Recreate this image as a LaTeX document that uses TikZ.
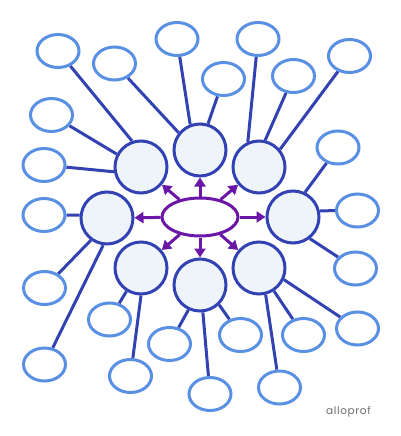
\documentclass[tikz,border=0pt]{standalone}
\usepackage{fontspec}
\newfontfamily\logofont[LetterSpace=6]{Poppins}
\usetikzlibrary{shapes.geometric,arrows.meta,backgrounds}
\definecolor{outerblue}{HTML}{5A90E4}
\definecolor{linkblue}{HTML}{3242B2}
\definecolor{midfill}{HTML}{EFF4FA}
\definecolor{mainpurple}{HTML}{6A17A8}
\definecolor{logogray}{HTML}{6E6E6E}
\tikzset{
  leaf/.style={ellipse,draw=outerblue,fill=white,line width=3pt,minimum width=42pt,minimum height=33pt,inner sep=0pt},
  hub/.style={circle,draw=linkblue,fill=midfill,line width=3pt,minimum size=52pt,inner sep=0pt},
  core/.style={ellipse,draw=mainpurple,fill=white,line width=3pt,minimum width=76pt,minimum height=38pt,inner sep=0pt},
  link/.style={draw=linkblue,line width=3pt},
  push/.style={draw=mainpurple,line width=3pt,-{Triangle[width=11pt,length=9pt]}}
}
\begin{document}
\begin{tikzpicture}[x=1pt,y=-1pt]
\useasboundingbox (0,0) rectangle (400,436);
% centre
\node[core] (ce) at (200,217) {};
% hubs
\node[hub] (cTL) at (141,167) {};
\node[hub] (cT)  at (200,150) {};
\node[hub] (cTR) at (259,167) {};
\node[hub] (cR)  at (293,217) {};
\node[hub] (cBR) at (259,268) {};
\node[hub] (cB)  at (200,285) {};
\node[hub] (cBL) at (141,268) {};
\node[hub] (cL)  at (107,218) {};
% leaves
\node[leaf] (e1)  at (58,51) {};
\node[leaf] (e2)  at (114.5,63.5) {};
\node[leaf] (e3)  at (177,39) {};
\node[leaf] (e4)  at (51.5,115) {};
\node[leaf] (e5)  at (44,165) {};
\node[leaf] (e6)  at (44,215) {};
\node[leaf] (e7)  at (258,39) {};
\node[leaf] (e8)  at (223.5,79) {};
\node[leaf] (e9)  at (293.5,76) {};
\node[leaf] (e10) at (349.5,56) {};
\node[leaf] (e11) at (338,147.5) {};
\node[leaf] (e12) at (357.5,210.5) {};
\node[leaf] (e13) at (44.5,288) {};
\node[leaf] (e14) at (44.5,364.5) {};
\node[leaf] (e15) at (109.5,319.5) {};
\node[leaf] (e16) at (130.5,376) {};
\node[leaf] (e17) at (169.5,344) {};
\node[leaf] (e18) at (210,394) {};
\node[leaf] (e19) at (240.5,335) {};
\node[leaf] (e20) at (303.5,335) {};
\node[leaf] (e21) at (357.5,328.5) {};
\node[leaf] (e22) at (279.5,387.5) {};
\node[leaf] (e23) at (355.5,268.5) {};
% connectors
\begin{scope}[on background layer]
\fill[white] (0,0) rectangle (400,436);
\path[link] (e1) -- (cTL.109);
\path[link] (e4) -- (cTL.152);
\path[link] (e5) -- (cTL.190);
\path[link] (e2) -- (cT.141);
\path[link] (e3) -- (cT.111);
\path[link] (e8) -- (cT.73);
\path[link] (e7) -- (cTR.114);
\path[link] (e9) -- (cTR.77);
\path[link] (e10) -- (cTR.40);
\path[link] (e11) -- (cR.64);
\path[link] (e12) -- (cR.13);
\path[link] (e23) -- (cR.-52);
\path[link] (e20) -- (cBR.-57);
\path[link] (e21) -- (cBR.-25);
\path[link] (e22) -- (cBR.-76);
\path[link] (e17) -- (cB.-115);
\path[link] (e18) -- (cB.-84);
\path[link] (e19) -- (cB.-46);
\path[link] (e15) -- (cBL.-122);
\path[link] (e16) -- (cBL.-90);
\path[link] (e6) -- (cL.174);
\path[link] (e13) -- (cL.-126);
\path[link] (e14) -- (cL.-98);
\end{scope}
% arrows
\foreach \h in {cTL,cT,cTR,cR,cBR,cB,cBL,cL}
  \path[push] (ce) -- (\h);
% logo
\node[text=logogray,font=\logofont\fontsize{10.5}{12}\selectfont,inner sep=0pt,anchor=base] (logo) at (348.5,414) {alloprof};
\end{tikzpicture}
\end{document}
